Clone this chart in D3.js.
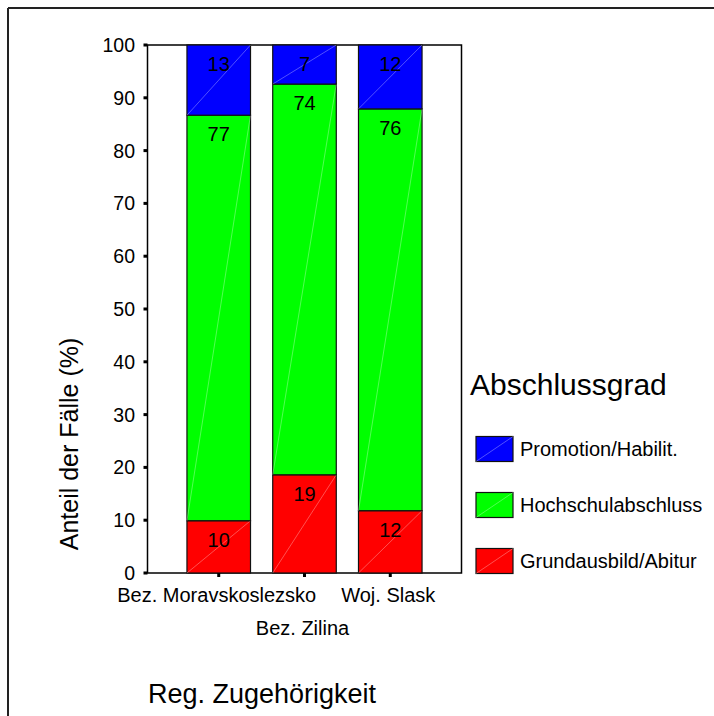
<!DOCTYPE html>
<html>
<head>
<meta charset="utf-8">
<script src="https://cdn.jsdelivr.net/npm/d3@7"></script>
<style>
  html, body { margin: 0; padding: 0; background: #fff; }
  svg { display: block; font-family: Arial, "Liberation Sans", sans-serif; }
</style>
</head>
<body>
<svg id="chart" width="714" height="716"></svg>
<script>
// ---- data ----
const categories = ["Bez. Moravskoslezsko", "Bez. Zilina", "Woj. Slask"];
const seriesNames = ["Grundausbild/Abitur", "Hochschulabschluss", "Promotion/Habilit."];
const grundausbild = [9.9, 18.6, 11.8];
const hochschul = [76.8, 74.0, 76.1];
const promotion = [13.3, 7.4, 12.1];
const seriesColors = ["#ff0000", "#00ff00", "#0000ff"];
const yTicks = [0, 10, 20, 30, 40, 50, 60, 70, 80, 90, 100];
const yTitle = "Anteil der Fälle (%)";
const xTitle = "Reg. Zugehörigkeit";
const legendTitle = "Abschlussgrad";

// ---- layout ----
const svg = d3.select("#chart");
const plot = { left: 147.5, right: 461.5, top: 45, bottom: 573 };

const rows = categories.map((c, i) => ({
  cat: c,
  [seriesNames[0]]: grundausbild[i],
  [seriesNames[1]]: hochschul[i],
  [seriesNames[2]]: promotion[i]
}));
const stacked = d3.stack().keys(seriesNames)(rows);

const x = d3.scaleBand().domain(categories)
  .range([plot.left, plot.right]).paddingInner(0.259).paddingOuter(0.46);
const y = d3.scaleLinear().domain([0, 100]).range([plot.bottom, plot.top]);
const color = d3.scaleOrdinal().domain(seriesNames).range(seriesColors);

// outer frame (left & top)
svg.append("line").attr("x1", 8).attr("y1", 8).attr("x2", 714).attr("y2", 8)
  .attr("stroke", "#222").attr("stroke-width", 2);
svg.append("line").attr("x1", 8).attr("y1", 8).attr("x2", 8).attr("y2", 716)
  .attr("stroke", "#222").attr("stroke-width", 2);

// plot frame
svg.append("rect")
  .attr("x", plot.left).attr("y", plot.top)
  .attr("width", plot.right - plot.left).attr("height", plot.bottom - plot.top)
  .attr("fill", "#fff").attr("stroke", "#000").attr("stroke-width", 1.5);

// bars
const layer = svg.append("g").selectAll("g").data(stacked).join("g")
  .attr("fill", d => color(d.key));
layer.selectAll("rect").data(d => d).join("rect")
  .attr("x", d => x(d.data.cat))
  .attr("y", d => y(d[1]))
  .attr("width", x.bandwidth())
  .attr("height", d => y(d[0]) - y(d[1]))
  .attr("stroke", "#111").attr("stroke-width", 1.2);
// faint diagonal artifacts
layer.selectAll("line").data(d => d).join("line")
  .attr("x1", d => x(d.data.cat)).attr("y1", d => y(d[0]))
  .attr("x2", d => x(d.data.cat) + x.bandwidth()).attr("y2", d => y(d[1]))
  .attr("stroke", "rgba(255,255,255,0.45)").attr("stroke-width", 0.7);
// value labels
layer.selectAll("text").data(d => d).join("text")
  .attr("x", d => x(d.data.cat) + x.bandwidth() / 2)
  .attr("y", d => y(d[1]) + 26)
  .attr("text-anchor", "middle")
  .attr("font-size", 20).attr("fill", "#000")
  .text(d => Math.round(d[1] - d[0]));

// y axis
const yAxis = svg.append("g");
yAxis.selectAll("rect").data(yTicks).join("rect")
  .attr("x", plot.left - 4).attr("y", d => y(d) - 1.5)
  .attr("width", 4).attr("height", 3).attr("fill", "#000");
yAxis.selectAll("text").data(yTicks).join("text")
  .attr("x", 135).attr("y", d => y(d) + 7)
  .attr("text-anchor", "end").attr("font-size", 19.5).attr("fill", "#000")
  .text(d => d);

// x axis ticks and labels (staggered)
const xAxis = svg.append("g");
xAxis.selectAll("rect").data(categories).join("rect")
  .attr("x", d => x(d) + x.bandwidth() / 2 - 1.5).attr("y", plot.bottom)
  .attr("width", 3).attr("height", 4).attr("fill", "#000");
xAxis.selectAll("text").data(categories).join("text")
  .attr("x", d => x(d) + x.bandwidth() / 2 - 2)
  .attr("y", (d, i) => i % 2 === 0 ? 602 : 635)
  .attr("text-anchor", "middle").attr("font-size", 20).attr("fill", "#000")
  .text(d => d);

// axis titles
svg.append("text")
  .attr("transform", `translate(78,444) rotate(-90)`)
  .attr("text-anchor", "middle").attr("font-size", 25).attr("fill", "#000")
  .text(yTitle);
svg.append("text")
  .attr("x", 262).attr("y", 703)
  .attr("text-anchor", "middle").attr("font-size", 27).attr("fill", "#000")
  .text(xTitle);

// legend
const legend = svg.append("g");
legend.append("text").attr("x", 470).attr("y", 395)
  .attr("font-size", 30).attr("fill", "#000").text(legendTitle);
const legendOrder = seriesNames.slice().reverse();
const ly = d3.scalePoint().domain(legendOrder).range([449, 561]);
const items = legend.selectAll("g.item").data(legendOrder).join("g").attr("class", "item");
items.append("rect")
  .attr("x", 476).attr("y", d => ly(d) - 12.5)
  .attr("width", 37).attr("height", 25)
  .attr("fill", d => color(d)).attr("stroke", "#111").attr("stroke-width", 1.2);
items.append("line")
  .attr("x1", 476).attr("y1", d => ly(d) + 12.5)
  .attr("x2", 513).attr("y2", d => ly(d) - 12.5)
  .attr("stroke", "rgba(255,255,255,0.45)").attr("stroke-width", 0.7);
items.append("text")
  .attr("x", 520).attr("y", d => ly(d) + 7)
  .attr("font-size", 20).attr("fill", "#000")
  .text(d => d);
</script>
</body>
</html>
